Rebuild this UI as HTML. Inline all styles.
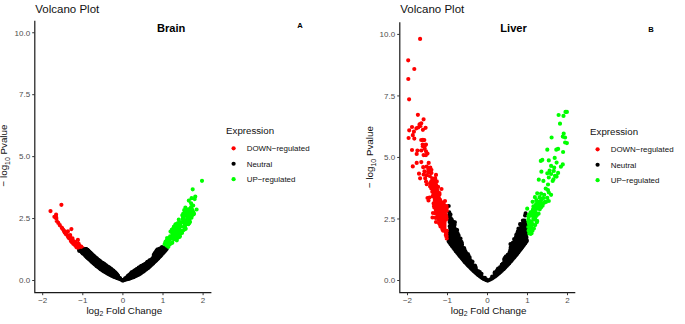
<!DOCTYPE html>
<html><head><meta charset="utf-8"><title>Volcano Plot</title>
<style>
html,body{margin:0;padding:0;background:#fff;}
svg{display:block;font-family:"Liberation Sans",sans-serif;}
.tk{font-size:8px;fill:#4d4d4d;}
.at{font-size:9.8px;fill:#111;}
.pt{font-size:11.5px;fill:#111;}
.bt{font-size:11.1px;font-weight:bold;fill:#000;}
.lb{font-size:7.6px;font-weight:bold;fill:#000;}
.lt{font-size:9.7px;fill:#111;}
.lg{font-size:7.95px;fill:#111;}
</style></head><body>
<svg width="685" height="324" viewBox="0 0 685 324">
<rect width="685" height="324" fill="#fff"/>
<path d="M34.8 21.3V292.6H210.8" stroke="#1a1a1a" stroke-width="1.2" fill="none" stroke-linecap="square"/>
<path d="M34.8 280.5h-2.6" stroke="#333" stroke-width="1"/>
<text x="30.2" y="283.3" text-anchor="end" class="tk">0.0</text>
<path d="M34.8 218.565h-2.6" stroke="#333" stroke-width="1"/>
<text x="30.2" y="221.365" text-anchor="end" class="tk">2.5</text>
<path d="M34.8 156.63h-2.6" stroke="#333" stroke-width="1"/>
<text x="30.2" y="159.43" text-anchor="end" class="tk">5.0</text>
<path d="M34.8 94.695h-2.6" stroke="#333" stroke-width="1"/>
<text x="30.2" y="97.495" text-anchor="end" class="tk">7.5</text>
<path d="M34.8 32.76h-2.6" stroke="#333" stroke-width="1"/>
<text x="30.2" y="35.56" text-anchor="end" class="tk">10.0</text>
<path d="M42.7 292.6v2.6" stroke="#333" stroke-width="1"/>
<text x="42.7" y="302.9" text-anchor="middle" class="tk">−2</text>
<path d="M82.8 292.6v2.6" stroke="#333" stroke-width="1"/>
<text x="82.8" y="302.9" text-anchor="middle" class="tk">−1</text>
<path d="M122.9 292.6v2.6" stroke="#333" stroke-width="1"/>
<text x="122.9" y="302.9" text-anchor="middle" class="tk">0</text>
<path d="M163 292.6v2.6" stroke="#333" stroke-width="1"/>
<text x="163" y="302.9" text-anchor="middle" class="tk">1</text>
<path d="M203.1 292.6v2.6" stroke="#333" stroke-width="1"/>
<text x="203.1" y="302.9" text-anchor="middle" class="tk">2</text>
<text x="124.3" y="314.1" text-anchor="middle" class="at">log<tspan dy="1.9" font-size="6.9">2</tspan><tspan dy="-1.9"> Fold Change</tspan></text>
<text transform="translate(7.3,155.5) rotate(-90)" text-anchor="middle" class="at">− log<tspan dy="2.4" font-size="6.9">10</tspan><tspan dy="-2.4"> Pvalue</tspan></text>
<text x="35.3" y="12.8" class="pt">Volcano Plot</text>
<text x="157" y="32.1" class="bt">Brain</text>
<text x="297.3" y="27.8" class="lb">A</text>
<text x="226.1" y="134.4" class="lt">Expression</text>
<circle cx="233.6" cy="148.3" r="2.1" fill="#ff0000"/>
<text x="246.7" y="151.1" class="lg">DOWN−regulated</text>
<circle cx="233.6" cy="163.75" r="2.1" fill="#000000"/>
<text x="246.7" y="166.55" class="lg">Neutral</text>
<circle cx="233.6" cy="179.2" r="2.1" fill="#00ff00"/>
<text x="246.7" y="182" class="lg">UP−regulated</text>
<path d="M399.8 22.8V292.6H574.7" stroke="#1a1a1a" stroke-width="1.2" fill="none" stroke-linecap="square"/>
<path d="M399.8 280.5h-2.6" stroke="#333" stroke-width="1"/>
<text x="395.2" y="283.3" text-anchor="end" class="tk">0.0</text>
<path d="M399.8 218.975h-2.6" stroke="#333" stroke-width="1"/>
<text x="395.2" y="221.775" text-anchor="end" class="tk">2.5</text>
<path d="M399.8 157.45h-2.6" stroke="#333" stroke-width="1"/>
<text x="395.2" y="160.25" text-anchor="end" class="tk">5.0</text>
<path d="M399.8 95.925h-2.6" stroke="#333" stroke-width="1"/>
<text x="395.2" y="98.725" text-anchor="end" class="tk">7.5</text>
<path d="M399.8 34.4h-2.6" stroke="#333" stroke-width="1"/>
<text x="395.2" y="37.2" text-anchor="end" class="tk">10.0</text>
<path d="M407.5 292.6v2.6" stroke="#333" stroke-width="1"/>
<text x="407.5" y="302.9" text-anchor="middle" class="tk">−2</text>
<path d="M447.5 292.6v2.6" stroke="#333" stroke-width="1"/>
<text x="447.5" y="302.9" text-anchor="middle" class="tk">−1</text>
<path d="M487.5 292.6v2.6" stroke="#333" stroke-width="1"/>
<text x="487.5" y="302.9" text-anchor="middle" class="tk">0</text>
<path d="M527.5 292.6v2.6" stroke="#333" stroke-width="1"/>
<text x="527.5" y="302.9" text-anchor="middle" class="tk">1</text>
<path d="M567.5 292.6v2.6" stroke="#333" stroke-width="1"/>
<text x="567.5" y="302.9" text-anchor="middle" class="tk">2</text>
<text x="488.6" y="314.1" text-anchor="middle" class="at">log<tspan dy="1.9" font-size="6.9">2</tspan><tspan dy="-1.9"> Fold Change</tspan></text>
<text transform="translate(373.2,157.1) rotate(-90)" text-anchor="middle" class="at">− log<tspan dy="2.4" font-size="6.9">10</tspan><tspan dy="-2.4"> Pvalue</tspan></text>
<text x="400.3" y="12.8" class="pt">Volcano Plot</text>
<text x="500.3" y="32.1" class="bt">Liver</text>
<text x="648.3" y="32" class="lb">B</text>
<text x="590.1" y="135.4" class="lt">Expression</text>
<circle cx="597.6" cy="149.3" r="2.1" fill="#ff0000"/>
<text x="610.7" y="152.1" class="lg">DOWN−regulated</text>
<circle cx="597.6" cy="164.75" r="2.1" fill="#000000"/>
<text x="610.7" y="167.55" class="lg">Neutral</text>
<circle cx="597.6" cy="180.2" r="2.1" fill="#00ff00"/>
<text x="610.7" y="183" class="lg">UP−regulated</text>
<polygon points="78.5,250.7 81,253.4 86,258.3 91,263 96,267.2 100.9,271.1 105.9,274.2 110.9,277 114.8,278.6 118.8,280.1 118.8,280.2 121.3,281.3 121.4,281.3 122.7,281.9 123.9,281.5 123.9,281.5 126.4,280.8 126.4,280.8 130.4,279.7 134.4,278.2 139.3,275.9 144.2,272.6 149.2,268.7 154.2,264.3 159.2,259.4 164.2,254 168,249.5 167.9,249.3 167.7,249 167.7,249 167.2,248.6 166.8,248.1 166.2,247.6 165.7,247.2 165.2,246.8 164.7,246.5 164.1,246.3 163.6,246.1 163,245.9 162.5,245.8 162,245.8 161.6,245.8 161.1,245.9 160.7,246.1 160.2,246.3 159.7,246.5 159.7,246.5 159.1,246.8 159.1,246.8 158.5,247 158.5,247 157.9,247.2 157.3,247.4 156.7,247.6 156.1,248 155.6,248.4 155.1,249.1 154.6,249.9 154.1,250.9 153.6,252 153.6,252 153.1,253 153.1,253 152.6,253.9 152.3,254.6 152.1,255.2 151.8,255.8 151.8,255.9 151.5,256.6 151.5,256.6 151.4,256.6 150.9,257.3 150.9,257.4 150.9,257.4 150,258.2 150,258.3 148.7,259.2 148.7,259.2 147.1,260.3 147.1,260.3 145.4,261.4 145.4,261.4 143.5,262.5 141.7,263.7 140,264.7 138.5,265.7 138.5,265.7 136.9,266.7 135.4,267.7 133.9,268.6 132.6,269.5 131.4,270.4 130.3,271.2 129.4,272 128.6,272.7 127.8,273.5 127.1,274.2 127.1,274.2 126.4,274.8 126.4,274.8 125.7,275.5 125,276.2 124.4,276.8 123.9,277.4 123.4,277.9 123.4,277.9 123,278.2 123,278.3 122.9,278.3 122.9,278.3 122.8,278.4 122.8,278.4 122.7,278.4 122.7,278.4 122.6,278.4 122.5,278.4 122.5,278.4 122.4,278.4 122.4,278.4 122.3,278.3 122.3,278.3 122.2,278.3 122.2,278.2 122.1,278.2 121.7,277.7 121.7,277.7 121.2,277 120.5,276.2 119.8,275.4 119,274.6 118.4,273.8 117.7,273.1 117.7,273.1 117.2,272.5 116.6,271.9 116,271.2 115.3,270.6 114.5,269.9 113.6,269.1 112.5,268.2 111.3,267.3 110.1,266.4 108.8,265.5 107.7,264.7 106.5,263.9 105.3,263.1 104.2,262.3 104.2,262.3 103,261.5 103,261.5 101.8,260.7 101.8,260.7 100.6,259.8 100.6,259.8 99.4,258.8 99.4,258.8 98.3,257.8 98.2,257.8 97.1,256.8 97.1,256.8 95.9,255.8 95.9,255.8 94.7,254.7 93.6,253.7 93.6,253.7 92.5,252.7 92.5,252.7 91.4,251.6 91.4,251.6 90.3,250.6 89.3,249.6 88.3,248.8 87.5,248.2 86.8,247.9 86.3,247.7 85.9,247.6 85.4,247.7 84.8,247.8 84.8,247.8 84.1,247.9 83.2,248.1 82.2,248.4 81,248.7 80,249.1 79,249.4 79,249.4 78.7,249.5 78.5,250.7" fill="#000000"/>
<path d="M96 264.2h0M134.3 273.6h0M88.3 257.3h0M153 260h0M90.3 255.4h0M98.3 260.3h0M101.1 267.2h0M129.6 276h0M86.1 254.8h0M128.3 275.5h0M159.1 254h0M95.3 259.5h0M143.6 270.6h0M110.4 270h0M116 273.5h0M143.4 266.5h0M106.1 269.7h0M118.2 276.8h0M108.3 269.3h0M97.2 261.5h0M155.9 260h0M98.6 261h0M141.1 266.2h0M81.8 251.7h0M133 272.3h0M114 273.5h0M158.1 250.1h0M135.3 271.1h0M153.8 258.8h0M109 273.4h0M161.8 250.1h0M99.2 264.7h0M105.1 271.4h0M114.6 273.8h0M159.7 251.5h0M153.8 254.9h0M157.8 257.7h0M156.5 251.7h0M151.7 261.2h0M163.4 251h0M159.9 250.4h0M95.7 262.3h0M150.2 260.7h0M139.9 272.7h0M140.5 272.5h0M133.1 271.8h0M84.5 253.7h0M131.6 272.4h0M93.9 262.9h0M94.7 263.7h0M104.5 271h0M125.2 278.3h0M147.1 264.8h0M147.6 268h0M86.6 251.2h0M86.9 250h0M87.2 257.3h0M142.5 270.3h0M110.9 271.3h0M141.2 266.1h0M96.9 265.9h0M148.7 265.2h0M155.9 256.6h0M87.4 249.9h0M142.2 270.7h0M149.2 261.2h0M97.7 261.3h0M130.4 277.4h0M83.3 250.8h0M150.4 263.1h0M127.2 279h0M112.1 273.7h0M141.5 267.3h0M103.1 265h0M87.2 256.2h0M153.9 257.3h0M159 250.2h0M111.1 270h0M138.4 270.7h0M95.6 260.6h0M87.9 254.7h0M109.6 268.8h0M87.3 255.3h0M100.9 266.3h0M82.9 253.2h0M137.9 271.7h0M97.3 262.8h0M92.5 260h0M128.8 277.3h0M117.3 277.3h0M143.1 267.1h0M116.4 274h0M128.9 277.2h0M162 247.2h0M157.3 253.7h0M152.2 259h0M84.5 250.7h0M137.3 273.5h0M104 268.5h0M87.7 256.7h0M104.2 265.4h0M111.1 269.1h0M147.5 264.4h0M162 253h0M100.5 263.5h0M99.2 266.5h0M129.4 276.2h0M92.7 257.5h0M102.9 266.8h0M163.6 248.6h0M156.7 251.9h0M119.9 278.2h0M109.7 270.3h0M114 275.2h0M112.9 273.2h0M98.6 262.7h0M154.4 254h0M108.1 272.8h0M83.7 252.2h0M142.6 269.3h0M104.3 270.9h0M154.6 254.7h0M154.8 255h0M102.7 269.4h0M96.2 262.8h0M155.8 259.9h0M107.1 271h0M140 270h0M144.6 264.9h0M85.6 249.5h0M146.6 263.2h0M102 264.1h0M108.9 272.4h0M141 267.9h0M90.9 259.7h0M163.6 251.6h0M104.8 271.5h0M133.3 272.6h0M160.5 255.6h0M99.7 263.2h0M84.6 249.3h0M156.9 257.5h0M86.9 253.3h0M149.6 260.4h0M82.5 252.8h0M111 272.2h0M162.7 247.6h0M114.5 273.9h0M165 250.6h0M136.7 274.1h0M158 257.9h0M88.3 258.3h0M144.1 265.4h0M89.3 252h0M126.4 278.8h0M107.8 272.3h0M99 260.8h0M103.7 269.7h0M95.9 259.1h0M133.2 276.7h0M160.3 252.3h0M114.7 276h0M148.8 264.2h0M165.6 249.4h0M154.6 253.7h0M104.2 268.6h0M147.9 263.5h0M127.4 277.3h0M90.3 253.2h0M113.6 275.4h0M133.2 277.2h0M116.7 274.5h0M109.9 270.6h0M100.4 266.5h0M144.1 267.2h0M105.4 270.3h0M157.2 255.6h0M112.4 271.2h0M92.5 260.3h0M133.7 271.9h0M98.9 262.2h0M143.3 270.9h0M82.6 250.9h0M135.5 275.4h0M86.9 255.9h0M84.7 250.3h0M148.6 261.3h0M154.1 260.6h0M104.7 269.8h0M127.6 278h0M159 249.7h0M147.4 261.8h0M90.3 257.8h0M128.3 277.8h0M98.3 261h0M113.5 273.1h0M94.3 258.8h0M152.6 259.1h0M112.6 271h0M97.3 265h0M145.9 266.6h0M104 264.1h0M155.3 252.5h0M143.3 265h0M111.4 273.4h0M100.2 262.3h0M112 271.4h0M157.7 250.6h0M91.8 257.2h0M109 270.5h0M160.4 250.1h0M124.8 279.1h0M82.9 250.9h0M151.8 260.7h0M102.7 266.7h0M102 263.1h0M100.7 268.9h0M102.5 264.6h0M142.6 269.6h0M148.1 265.1h0M109.2 273.5h0M158.8 252h0M161.5 253.6h0M86.3 253.3h0M145.7 264.7h0M161.6 249.9h0M106.8 272.5h0M93.9 258.2h0M152.9 262.7h0M164.3 248h0M84.6 252.6h0M158.7 255h0M156 252.6h0M123.9 279.9h0M103.3 266.3h0M127.9 278.6h0M139.1 273.7h0M109.7 273.5h0M155.1 257.5h0M129.1 278.6h0M136.4 273h0M158.6 256.9h0M100.4 263h0M162.6 251.3h0M145.7 265.6h0M157.8 255.6h0M146.1 268.7h0M86.3 256.2h0M138.8 267.7h0M90.5 257.3h0M114.5 276.7h0M136.6 269.4h0M109.5 270.9h0M141.4 272.5h0M144.4 266.4h0M103.8 266h0M110.5 272.4h0M139.7 270.1h0M151.4 259.8h0M92.9 257.5h0" stroke="#000000" stroke-width="4.2" stroke-linecap="round" fill="none"/>
<path d="M79.2 249.5h0M79.8 250.1h0M80.4 250.7h0M80.9 251.2h0M81.5 251.8h0M82 252.4h0M82.5 252.9h0M83.1 253.5h0M83.7 254h0M84.3 254.6h0M84.8 255.1h0M85.4 255.7h0M86 256.3h0M86.5 256.8h0M87.1 257.4h0M87.7 257.9h0M88.3 258.5h0M88.8 259h0M89.4 259.5h0M90 260.1h0M90.6 260.6h0M91.2 261.2h0M91.7 261.7h0M92.3 262.2h0M92.9 262.7h0M93.5 263.3h0M94.1 263.8h0M94.7 264.3h0M95.3 264.8h0M95.9 265.3h0M96.5 265.9h0M97.1 266.3h0M97.7 266.8h0M98.3 267.3h0M99 267.8h0M99.6 268.3h0M100.2 268.8h0M100.9 269.3h0M101.5 269.7h0M102 270.1h0M102.6 270.5h0M103.3 270.9h0M104 271.4h0M104.7 271.8h0M105.4 272.2h0M106 272.6h0M106.7 273h0M107.4 273.4h0M108 273.8h0M108.7 274.2h0M109.4 274.6h0M110.1 275h0M110.8 275.3h0M111.5 275.7h0M112.1 276h0M112.8 276.3h0M113.6 276.6h0M114.3 276.9h0M115 277.2h0M115.7 277.5h0M116.4 277.8h0M117.2 278h0M117.9 278.3h0M118.7 278.6h0M119.5 278.9h0M120.3 279.2h0M121 279.6h0M121.8 279.9h0M122.6 280.3h0M123 280.6h0M122.4 280.5h0M123.2 280.3h0M124.1 280h0M124.8 279.8h0M125.6 279.6h0M126.4 279.4h0M127.2 279.2h0M127.9 279h0M128.7 278.7h0M129.5 278.5h0M130.1 278.3h0M130.8 278.1h0M131.6 277.8h0M132.3 277.5h0M133.1 277.2h0M133.7 277h0M134.4 276.7h0M135.1 276.3h0M135.8 276h0M136.5 275.7h0M137.3 275.3h0M138 275h0M138.6 274.7h0M139.1 274.3h0M139.8 273.9h0M140.5 273.4h0M141.1 273h0M141.8 272.5h0M142.5 272.1h0M143.1 271.7h0M143.7 271.3h0M144.3 270.8h0M144.9 270.3h0M145.6 269.8h0M146.2 269.3h0M146.8 268.8h0M147.4 268.3h0M148.1 267.9h0M148.6 267.4h0M149.2 266.9h0M149.8 266.4h0M150.4 265.8h0M151 265.3h0M151.6 264.7h0M152.2 264.2h0M152.7 263.7h0M153.3 263.2h0M153.8 262.6h0M154.4 262.1h0M155 261.5h0M155.6 261h0M156.1 260.4h0M156.7 259.8h0M157.3 259.3h0M157.8 258.7h0M158.4 258.2h0M158.9 257.6h0M159.4 257h0M160 256.5h0M160.5 255.9h0M161.1 255.3h0M161.6 254.7h0M162.1 254.1h0M162.7 253.5h0M163.2 253h0M163.7 252.4h0M164.2 251.8h0M164.7 251.2h0M165.3 250.6h0M165.8 250h0M166.3 249.3h0M166.8 248.7h0" stroke="#000000" stroke-width="4.2" stroke-linecap="round" fill="none"/>
<path d="M118 275.5h0M117.3 274.8h0M116.7 274h0M116 273.3h0M115.4 272.6h0M114.7 271.9h0M114 271.3h0M113.3 270.7h0M112.6 270.1h0M111.8 269.5h0M111 268.9h0M110.3 268.3h0M109.5 267.7h0M108.7 267.1h0M107.8 266.6h0M107 266h0M106.2 265.4h0M105.4 264.8h0M104.6 264.3h0M103.8 263.7h0M103 263.2h0M102.1 262.6h0M101.3 262h0M100.4 261.4h0M99.6 260.7h0M98.8 260.1h0M98 259.5h0M97.2 258.8h0M96.5 258.1h0M95.7 257.5h0M94.9 256.8h0M94.2 256.1h0M93.4 255.5h0M92.7 254.8h0M91.9 254.1h0M91.2 253.4h0M90.4 252.7h0M89.7 252h0M89 251.3h0M88.3 250.7h0M87.6 250.1h0M87 249.6h0M86.4 249.2h0M86 249.1h0M85.6 249.1h0M84.7 249.2h0M83.8 249.4h0M82.9 249.6h0M82 249.9h0M81.1 250.2h0M80.2 250.5h0M79.2 250.8h0" stroke="#000000" stroke-width="4.2" stroke-linecap="round" fill="none"/>
<polygon points="54.8,216 54.5,217.8 56.3,220.8 65,235.2 71.2,242.9 76.2,249 84.8,247.2 84.4,246.7 79.8,244.8 79.8,244.8 79.7,244.7 79.6,244.7 74.2,240.2 74.2,240.1 74.1,240.1 70.3,235.6 66.5,231.6 66.4,231.6 62.5,227 62.4,226.9 58.5,221 58.5,220.9 58.5,220.9 58.4,220.8 57.2,216.8 56.2,214.9 54.8,216" fill="#ff0000"/>
<path d="M74.8 243.3h0M79.2 246.5h0M71.9 242.2h0M81.2 246.7h0M75.2 245.6h0M56.2 217.5h0M56.1 217.1h0M70.3 238.3h0M79.8 245.9h0M77.5 244.5h0M76.2 245h0M75.4 243.6h0M73.2 243h0M63.1 229.6h0M77.9 246.5h0M68.3 236.9h0M78.8 247.3h0M76.4 247h0M64.7 232.4h0M70.8 238.7h0M74.3 244h0M74.7 242.4h0M77.1 245.3h0M76.1 245.9h0M65.8 233.6h0M81.3 246.8h0M65.2 232.6h0M65.4 233.6h0M77.2 244.1h0M62.3 228.6h0M69.2 236.9h0M65.7 233.2h0M75 242.3h0M73.1 241.3h0M69.2 237.7h0M73 241.8h0M76.9 243.8h0M72.1 241.2h0M71.5 239.8h0M70.8 240.4h0M68.1 236.6h0M76.3 244h0M64.4 231.4h0M74.9 244.7h0M76.9 247.4h0M73.6 241h0M68.8 237.8h0M80.3 246.3h0M73.1 241.6h0M65.2 232.6h0M72.5 241h0M75.9 243.8h0M78.4 245.4h0M78 245.8h0M75.8 243h0M64.9 231.6h0M71.4 241.3h0M70.8 240.8h0M70.9 240.9h0M68.7 237.7h0" stroke="#ff0000" stroke-width="4.2" stroke-linecap="round" fill="none"/>
<path d="M61.4 204.8h0M50.5 211.1h0M56.1 214.7h0M54.4 216.8h0M56.3 218.5h0M56.7 221h0M58.3 222.9h0M59.8 225.2h0M61.7 227.5h0M71.4 229.1h0M64 230.9h0M67.9 231.4h0M66.3 234.5h0M70.2 235.2h0M68.6 237.6h0M72.5 238.3h0M77.9 239.9h0M71 240.7h0M74.8 242.2h0M73.3 243.8h0M78.7 243.8h0" stroke="#ff0000" stroke-width="4.2" stroke-linecap="round" fill="none"/>
<path d="M171.7 229.9h0M176 232.3h0M184.6 214.1h0M185.6 210.6h0M176.8 240.3h0M192.3 211.9h0M184.2 220.1h0M180.4 223.5h0M175.3 231.6h0M185.6 214.6h0M187 216.5h0M166.9 240.2h0M173.5 239h0M192.1 209.8h0M187.1 221.3h0M183.7 214.3h0M165.4 242.9h0M178.9 228.9h0M182 233h0M177.9 237h0M177.4 231.4h0M184.2 226.8h0M185.9 222.2h0M183.1 220.9h0M175.9 232h0M188.9 209.1h0M189.9 217.6h0M186.5 212.1h0M191.5 214.8h0M174.9 234.2h0M190 221.9h0M189.6 218.9h0M175.2 224.8h0M177.6 224.5h0M193.6 214.3h0M185.4 228.9h0M183 219.6h0M190.1 209.8h0M185.4 229.1h0M183.7 221.7h0M172.2 242.7h0M169.6 239.9h0M190.5 208.3h0M172.7 229.2h0M177.7 227h0M175.4 234h0M182.9 222.5h0M187.1 223.3h0M176.1 232.3h0M189.2 223.3h0M177.9 223h0M180 236.3h0M177.6 235.9h0M168 240.7h0M188.9 209.8h0M192.3 215.2h0M168 242h0M189.7 209.5h0M187 212.3h0M172.1 232.8h0M188.3 223.8h0M175.9 224h0M175.3 224.8h0M188.1 214.5h0M185.7 228.8h0M179.6 233.9h0M192.9 214h0M167.1 238.1h0M178.3 236.9h0M170.5 231.6h0M173.6 236.4h0M182.8 218.8h0M179.5 223.4h0M174.4 239.2h0M179.5 232.1h0M179.5 237h0M171.6 236.9h0M191.5 217.7h0M170.1 236.4h0M172.3 242.8h0M187.5 211.5h0M167 241.6h0M178.1 227.6h0M170.8 231.6h0M172.9 234.8h0M167.7 243.7h0M193.3 211.9h0M173.6 235.2h0M172.6 238.4h0M179.9 222.2h0M182.3 215.3h0M169.8 243.8h0M185.1 212.9h0M194 213.7h0M174.7 237h0M183.3 230.3h0M184.9 226.4h0M187.8 222.5h0M192.1 209.7h0M188.8 222.3h0M177.5 237.9h0M183.1 213.9h0M181 230.9h0M189.2 209.2h0M181.8 231.5h0M186.1 220.1h0M185.3 227.8h0M180.9 226.5h0M184.8 225.9h0M192.7 213.5h0M186.4 213.4h0M187.8 221.8h0M177.6 234.1h0M173.9 226.7h0M188.4 224.2h0M169.9 244.2h0M187.2 222.8h0M176 229.3h0M183.2 217h0M189.2 213.8h0" stroke="#00ff00" stroke-width="4.2" stroke-linecap="round" fill="none"/>
<path d="M202 180.8h0M192.7 189.3h0M195.3 196.6h0M191.6 198.2h0M194.7 199.1h0M188.8 200.6h0M191.1 203.3h0M193.2 205.6h0M191.1 207.2h0M185.4 207.6h0M196.6 209.5h0M184.2 210.2h0M188 210.6h0M191.1 211h0M193.5 214.1h0M184.2 214.9h0M188 214.9h0M183.4 217.2h0M190.4 217.2h0M178.8 219.5h0M187.3 219.5h0M164.6 244.2h0M166.6 245.6h0M168.4 246.8h0M165.6 241.5h0" stroke="#00ff00" stroke-width="4.2" stroke-linecap="round" fill="none"/>
<polygon points="449.3,241.7 452.4,246 456.4,251.2 460.4,256.2 464.3,260.8 468.3,265.2 472.2,269.2 476.1,272.8 480,276 483.8,278.5 486.4,279.9 487.6,280.2 488.8,279.9 491.4,278.5 495.2,276 499.1,272.8 503,269.2 506.9,265.2 510.9,260.8 514.8,256.2 518.8,251.2 522.8,246 526.5,240.9 525.3,218 525.3,218.2 525.2,218.4 525.1,218.6 525,218.8 524.8,219 524.7,219.2 522.7,221.1 521,223.2 519.7,226.2 518.8,229.6 518.7,229.8 518.6,230.1 517.2,232.8 516.6,236 516.5,236.2 516.4,236.5 516.3,236.7 514.5,239.6 513.1,242.5 513,242.6 511.1,245.9 510,250.1 510,250.3 509.9,250.5 509.7,250.7 505,258.2 505,258.3 498.8,267.6 498.7,267.8 492.8,275 492.8,275 489.4,279.1 489.2,279.2 489.1,279.4 488.9,279.5 488.7,279.6 488.5,279.7 488.3,279.8 488.1,279.9 487.9,279.9 487.6,279.9 487.4,279.9 487.2,279.9 487,279.8 486.8,279.7 486.6,279.7 486.4,279.5 486.2,279.4 486,279.3 485.9,279.1 482.3,275 482.2,274.9 476.5,267.7 476.4,267.6 470.3,258.3 470.2,258.2 467.3,253.4 467.3,253.4 462.7,245.6 462.6,245.4 462.5,245.2 460.4,239.4 458.5,235.5 458.4,235.3 458.4,235.1 457,230 455.1,227.3 455,227.1 454.9,226.9 454.8,226.7 454.8,226.5 454.7,226.3 454.7,226.1 454.6,222.7 452.5,221.2 452.3,221 452.1,220.9 452,220.7 451.9,220.5 451.8,220.3 451.7,220.1 450.4,216.8 450.3,216.6 449.5,213.6 449.3,240.5 449.3,241.7" fill="#000000"/>
<path d="M511.8 246.3h0M449.2 236.4h0M517 253.5h0M451.6 233.4h0M523 236.2h0M507.7 263.9h0M458.5 243.7h0M526.4 237.4h0M466.3 253.1h0M517.7 244.8h0M454.4 234h0M451.2 225.2h0M517.5 252.5h0M499.1 270.1h0M451 241.7h0M468.7 259.2h0M519 231h0M525 235.2h0M452.8 240.8h0M468.2 259.7h0M455.6 244h0M500.9 270.6h0M523 232.9h0M464.5 252.3h0M522.2 243.1h0M456.4 232h0M507.1 263.6h0M512.4 252.9h0M454.3 246.2h0M451.9 245.1h0M521.4 248.1h0M524.4 237.7h0M521.4 248h0M509.3 262.3h0M517.6 235.7h0M455.4 238.8h0M462.9 248.2h0M521.1 247h0M518.6 246.4h0M508.9 263.1h0M506.3 261.6h0M526.3 236.8h0M521.2 224.3h0M455 231.9h0M465.9 258.5h0M523.8 236.6h0M507.7 254.9h0M455.7 244.7h0M497.5 269.8h0M464.8 259.4h0M449.7 231.5h0M451.7 245.3h0M453.2 230.5h0M456 233.1h0M478.1 271.1h0M451.5 225.3h0M501.8 264.5h0M469.8 266.1h0M449.3 216.8h0M457.7 246.1h0M458 234.8h0M503.6 268.9h0M525.2 228.4h0M521.8 235h0M470.7 265.3h0M449.3 234.2h0M521.2 232h0M462 248.8h0M524.1 241.2h0M458 247.7h0M514.1 256.5h0M469.5 257.5h0M524.3 224.6h0M450.2 230.8h0M515.7 244.8h0M494.6 273.1h0M453.6 235.7h0M475 266.2h0M462.4 252.1h0M505.1 257.6h0M514.9 244.1h0M515.8 252.5h0M512.8 242.9h0M452.3 221.9h0M463.5 251.4h0M483.7 277.8h0M456 229.5h0M522.6 243.3h0M469.2 265.2h0M459.9 248.7h0M521.3 224.4h0M521.1 230h0M456.2 251.2h0M451.8 228.8h0M525.1 228.5h0M503 265.2h0M498.3 270.1h0M468 257h0M461.8 247.5h0M481.6 277.4h0M516.9 246.6h0M452.3 244.1h0M521.8 230.3h0M450.4 227.6h0M454.2 233.8h0M485.8 279.2h0M455.3 236.9h0M510.9 252.4h0M454.6 224.8h0M500.2 267.2h0M457 234.9h0M458.3 241.7h0M524.9 235.6h0M464.1 253.6h0M525.9 226.7h0M523.2 241.5h0M526.4 234h0M452.2 243h0M524.7 241.4h0M525.3 230.6h0M518.7 229.7h0M456.9 247.3h0M457.5 233.1h0M451.2 219.2h0M517 253.8h0M522.2 227.4h0M524.2 241.8h0M455.3 245.2h0M458 252.6h0M494.9 275.2h0M475.7 267.4h0M455.6 233.8h0M524.9 243.4h0M454.5 228h0M469.9 259.5h0M480.7 275.9h0M510.7 249.9h0M464.1 248h0M453.5 245.6h0M517.2 240.2h0M520 232.4h0M492.2 276.6h0M521.5 241.2h0M450.6 229.1h0M466 260.7h0M462.7 257.7h0M514.7 239.9h0M454.1 242.2h0M486.4 279.8h0M451.1 224.6h0M479.3 271.8h0M479.8 272.1h0M512.8 249.2h0M456.9 233.7h0M523.3 228.8h0M505.9 258.6h0M518.2 252h0M493.8 276.5h0M516 247.9h0M464.3 259h0M516.2 250.7h0M453.7 222.1h0M453.2 232.7h0M504.7 266.7h0M452.6 222.1h0M503.1 266.4h0M516 243.9h0M514 250.4h0M463.9 254.2h0M521.5 247.3h0M520.5 246.7h0M450.7 237.9h0M455.7 236.3h0M513.6 247.5h0M454.7 229h0M457.6 239.3h0M481.5 273.8h0M509.6 252.4h0M461 247h0M525.4 222.3h0M519.8 249.5h0M456.7 249.8h0M458.7 246.2h0M465.3 252.5h0M465.2 257.1h0M457.9 245.1h0M517.6 237.7h0M524.8 239.4h0M498.1 268.5h0M520.7 248.4h0M522.1 229.8h0M521.6 229.1h0M509.6 258.9h0M450.6 225.7h0M453 245.6h0M513 248.2h0M524.8 231.5h0M451.9 232.6h0M518.1 249.2h0M451 236.4h0M510.2 260.3h0M455.4 243h0M524.3 231.6h0M525.5 231.7h0M471.9 261.4h0M509.7 258.5h0M459.6 252.8h0M465.5 251.8h0M513.5 247.7h0M504.2 259.2h0M505.3 263.7h0M501.4 266.9h0M455.9 233h0M450.5 232.5h0M524.6 222h0M450.4 223.4h0M501.3 268.8h0M462.7 248.7h0M515.9 254.8h0M450.9 242.1h0M525.1 236.8h0M452.6 238.7h0M450 238.5h0M451.1 232.5h0M458.6 242.4h0M464.9 261.9h0M506.5 262.6h0M523.9 227.5h0M477.3 273h0M516.1 250.6h0M516.8 251.9h0M457.6 250.8h0M450.4 234.6h0M477.9 271.8h0M474 270.2h0M468.8 259.3h0M519.4 244.1h0M495.5 273h0M504.2 266.9h0M517.9 232.7h0M461.4 241.8h0M524.1 238.2h0M457.5 242.6h0M482.2 277.7h0M450.3 230.8h0M516.1 246.1h0M450.6 218.1h0M470 265.5h0M525 227.3h0M449.3 212.4h0M515.5 254.3h0M463.3 257.7h0M459.3 239.6h0M511.9 255.5h0M454.2 229.4h0M453.3 225.6h0M518.7 229.8h0M505.7 256.9h0M485.2 279.1h0M519.6 240.9h0M510.5 251.5h0M459.7 242.3h0M518.8 239.6h0M518.8 231.3h0M461.1 247.6h0M516.4 243h0M516.8 250.1h0M525.3 223.1h0M494.8 272.3h0M452 225.1h0M458.2 237.2h0M456.1 232.2h0M526.2 233.2h0M478.3 274.8h0M460.3 248.5h0M468.9 259.7h0M465.6 262.4h0M518.3 239.1h0M514 253.7h0M513.2 248.3h0M501.9 265.6h0M523.5 241h0M522.5 225.9h0M519.2 237.9h0M521.5 232.9h0M505 264.8h0M516.7 244h0M511.3 246.4h0M451 232.4h0M456.1 231h0M517.9 243.2h0M510.3 250.2h0M515.8 254.5h0M462.2 246.9h0M519.9 236.6h0M456.9 238.9h0M524.2 238h0M525.3 235.7h0M449.4 216h0M457.5 242h0M500.7 267.2h0M521.3 227h0M520.1 228.8h0M464 259.5h0M504.3 261.1h0M470.8 266.5h0M515.6 254h0M516.1 244.3h0M460.5 241.1h0M521.9 227.3h0M460.2 254.4h0M505.9 260h0M458 250.8h0M512.4 246.3h0M452.1 240.1h0M515.2 252.5h0M522.7 245h0M465.3 259.3h0M511 259.8h0M524.6 232.3h0M523.1 240.1h0M510.2 259.6h0M449.7 226.3h0M455.9 245.6h0M502.7 263.9h0M464.4 249.1h0M469.9 260.6h0M520.1 238.5h0M451.8 234.8h0M482.3 277.3h0M458.5 249h0M469.6 264.2h0M526 225.3h0M465 256h0M450.5 220.6h0M474.9 265.5h0M499 271.1h0M455.8 231.8h0M452.9 243.5h0M517.9 244.6h0M450.1 217.8h0M520.4 243.6h0M451.7 223.6h0M516.6 249.3h0M459.7 254.8h0M451.8 229.7h0M510.6 261.3h0M511.9 255.5h0M507.8 254.8h0M517.1 243.7h0M454 234.8h0M480.5 274.8h0M507.7 259.2h0M456.7 230.3h0M453.6 228.2h0M460.2 240.6h0M460.3 251h0M470.6 264h0M524.2 220.6h0M495.7 272.8h0M513.6 243.9h0M510.3 261.3h0M461 251.4h0M457.6 245.5h0M479.3 272.4h0M449.5 237h0M453.2 237.4h0M517.8 231.7h0M484.9 277.9h0M452.2 231.4h0M453.3 240.9h0M468.5 255.4h0M512.6 250h0M464 256.3h0M457.6 241.7h0M449 238.3h0M456.9 234.3h0M511 257.8h0M479.9 275.4h0M460.4 255.8h0M502.2 264.7h0M465.2 261h0M519.1 243.1h0M461.9 243.1h0M452.8 230.9h0M515.7 254.3h0M463.2 256.5h0M526.6 239.9h0M453.8 241.2h0M497 270.6h0M460.6 247.8h0M519.7 246.4h0M460.9 242.2h0M498.1 270.3h0M521 248.2h0M460.8 241.4h0M510.7 247.6h0M456.1 246.3h0M476.9 273h0M460.6 247.9h0M457.5 234.9h0M450.2 239.8h0M517.8 250.9h0M521.5 239.3h0M453.5 225.6h0M467.6 255.7h0M466.5 254.5h0M506.1 256.3h0M519.2 235.8h0M494.6 276.2h0M466.4 258.6h0M456.7 234h0M523.3 235.4h0M462 244.6h0M453.2 237.5h0M480.7 273.5h0M523.9 240.9h0M460 249.4h0M452.8 231h0M449.3 234h0M496.9 272.7h0M524 224.6h0M453 223.9h0M517.8 251.4h0M453.1 243.6h0M512.5 244.2h0M469.6 257.3h0M451.8 245.4h0M524 230.1h0M460.1 241.6h0M450.9 230.1h0M502 266.2h0M524.2 239.2h0M467.1 259.1h0M518 236.8h0M454.2 230.5h0M520.9 233.9h0M505.6 259.6h0M454 232.8h0M462.1 252.7h0M455.3 244h0M508.8 263.4h0M461.3 255.9h0M519.6 234.3h0M452.9 227.5h0M510.3 250.5h0M453.2 244.2h0M503.8 264.7h0M469.1 264h0M515.1 252.8h0M524.6 243.6h0M520.6 229.7h0M472.5 261.8h0M454.3 224.3h0M523.8 236.3h0M525.4 232h0M478 272.8h0M461 243.3h0M458.3 238.8h0M518 238.6h0M462.4 254.8h0M521.1 241.4h0M453.5 238.3h0M449.7 222.1h0M459.8 246.3h0M465.1 251h0M467.9 254h0M449.3 214.5h0M461 250.5h0M523 245.4h0M460.2 249.4h0M520.6 230h0M513.1 247.3h0M466.4 256.5h0M483.3 278.4h0M521.6 236.9h0M476.4 270.1h0M515.6 247.3h0M457.8 250.4h0M512.8 245.6h0M523.7 227.1h0M449.6 219.1h0M475.9 270.9h0M466.8 255.7h0M526.1 228.4h0M517.5 232.7h0M524.2 221.5h0M523.6 225h0M449.3 238h0M454 229.7h0M452.2 243.7h0M460.8 243.1h0M450.2 228.6h0M455.9 230h0M452.2 226.8h0M459.2 245.2h0M519.4 236.4h0M508.2 254.5h0M466.8 263.6h0M510.3 258.9h0M502.8 268.7h0M455.7 230.9h0M453.5 225.9h0M521.3 238.6h0M472.6 265.5h0M509.8 260.1h0M520.4 238.6h0M513.2 252.3h0M451.9 235.8h0M511.5 247h0M451.6 230.7h0M475.1 265.9h0M521.4 233.1h0M462.3 250.6h0M516 237.1h0M453.9 237.4h0M471 262.3h0M508.3 260.9h0M525.1 227.2h0M465.9 255.5h0" stroke="#000000" stroke-width="4.2" stroke-linecap="round" fill="none"/>
<path d="M448.6 241.3h0M449.1 241.9h0M449.6 242.6h0M450 243.2h0M450.5 243.9h0M451 244.5h0M451.4 245.1h0M451.9 245.8h0M452.4 246.4h0M452.9 247h0M453.3 247.7h0M453.8 248.3h0M454.3 248.9h0M454.8 249.6h0M455.3 250.2h0M455.8 250.9h0M456.2 251.5h0M456.7 252.1h0M457.2 252.7h0M457.7 253.3h0M458.2 253.9h0M458.7 254.6h0M459.2 255.2h0M459.7 255.8h0M460.2 256.4h0M460.7 257h0M461.2 257.6h0M461.7 258.2h0M462.3 258.8h0M462.8 259.5h0M463.3 260.1h0M463.8 260.7h0M464.3 261.2h0M464.8 261.8h0M465.4 262.4h0M465.9 263h0M466.4 263.6h0M467 264.2h0M467.5 264.8h0M468 265.4h0M468.6 265.9h0M469.1 266.5h0M469.7 267h0M470.2 267.6h0M470.8 268.2h0M471.4 268.8h0M471.9 269.3h0M472.4 269.8h0M473 270.3h0M473.6 270.9h0M474.2 271.4h0M474.8 272h0M475.4 272.5h0M475.9 273h0M476.5 273.5h0M477.1 274h0M477.7 274.5h0M478.3 275h0M479 275.5h0M479.6 276h0M480.1 276.4h0M480.7 276.8h0M481.4 277.3h0M482.1 277.7h0M482.7 278.2h0M483.4 278.6h0M483.9 278.9h0M484.6 279.3h0M485.3 279.6h0M486 280h0M486.5 280.2h0M487.2 280.4h0M487.6 280.6h0M487.6 280.5h0M488.4 280.3h0M488.9 280.1h0M489.5 279.8h0M490.2 279.5h0M490.9 279.1h0M491.5 278.8h0M492.1 278.4h0M492.7 278h0M493.4 277.6h0M494.1 277.1h0M494.7 276.7h0M495.3 276.2h0M495.9 275.8h0M496.5 275.3h0M497.1 274.8h0M497.7 274.3h0M498.3 273.8h0M499 273.3h0M499.5 272.8h0M500.1 272.3h0M500.7 271.8h0M501.2 271.2h0M501.8 270.7h0M502.4 270.1h0M503 269.6h0M503.5 269.1h0M504.1 268.5h0M504.6 268h0M505.2 267.4h0M505.7 266.8h0M506.3 266.2h0M506.9 265.7h0M507.4 265.1h0M507.9 264.6h0M508.4 264h0M509 263.4h0M509.5 262.8h0M510 262.2h0M510.6 261.6h0M511.1 261h0M511.6 260.4h0M512.1 259.8h0M512.6 259.2h0M513.1 258.6h0M513.7 258h0M514.2 257.4h0M514.7 256.8h0M515.2 256.2h0M515.7 255.6h0M516.2 255h0M516.7 254.3h0M517.2 253.7h0M517.7 253.1h0M518.2 252.5h0M518.7 251.8h0M519.1 251.2h0M519.6 250.6h0M520.1 250h0M520.6 249.3h0M521.1 248.7h0M521.6 248.1h0M522 247.4h0M522.5 246.8h0M523 246.2h0M523.5 245.5h0M523.9 244.9h0M524.4 244.2h0M524.9 243.6h0M525.3 243h0M525.8 242.3h0M526.3 241.7h0M526.8 241h0" stroke="#000000" stroke-width="4.2" stroke-linecap="round" fill="none"/>
<path d="M448.7 206h0M450.5 214.6h0M451.8 219.9h0M454.9 222.3h0M453 224.8h0M457.1 230h0M454.9 231h0M458.6 235.4h0M460.5 238.5h0M525.6 213.4h0M525.1 215.5h0M522.9 220.5h0M520.1 224.2h0M518.5 228.6h0M516.3 234.8h0M514.2 239.1h0M510.5 244.1h0" stroke="#000000" stroke-width="4.2" stroke-linecap="round" fill="none"/>
<polygon points="428.9,184.6 431.8,189.3 431.9,189.5 432,189.7 432,190 432.1,190.2 434.1,205.7 434.9,211.7 436.5,216.8 439.9,224 439.9,224.1 442.5,230.5 446.3,237.5 446.7,206.6 444.3,202 441.6,200 441.5,199.9 441.3,199.8 441.2,199.6 441,199.4 440.9,199.2 440.8,199 440.8,198.8 440.7,198.6 439.2,189.7 435.6,183.1 435.5,182.9 435.4,182.7 435.4,182.5 435.3,182.3 434.9,179.5 433.3,180 428.9,184.6" fill="#ff0000"/>
<path d="M440 223.1h0M446 217.6h0M437.2 193.7h0M438.6 213.2h0M432.3 191.8h0M446.8 230.9h0M438.5 219.3h0M435.1 188.9h0M431.1 182.9h0M434.7 197.4h0M443.7 207.6h0M434.3 207.6h0M442.4 229.3h0M435.2 213.4h0M445.8 235.1h0M434.8 200.1h0M443.3 230.2h0M438.6 197.6h0M434.3 189.5h0M431.4 181.9h0M446.8 210.7h0M436 193.1h0M436.9 204.1h0M433.9 206h0M446.6 206h0M437.3 196.3h0M435.9 187.7h0M446.3 216.3h0M437.7 199.1h0M443 230.6h0M442.9 220.3h0M440.8 224.2h0M442.8 220.1h0M440.5 213.6h0M440.5 226.5h0M442.2 228.3h0M444.7 220h0M446.6 235.9h0M438.1 210.5h0M445.9 207.4h0M441.3 221.8h0M443 213.6h0M440.8 204h0M440.1 225.1h0M440.3 221.9h0M436.6 217.7h0M437.2 192.4h0M434.3 189.8h0M432 181.1h0M437.1 201.6h0M439.8 214.1h0M433.6 203.4h0M435.4 181.1h0M438.6 199.2h0M443.7 203.9h0M443.6 217.2h0M435.3 187.4h0M439.5 212.5h0M446.3 236.6h0M439.8 199.9h0M435.4 204.7h0M432.6 196.3h0M446.4 233.4h0M439.5 194.4h0M446.7 208.5h0M436.2 198h0M446.8 208.3h0M436.7 196.4h0M443 228.2h0M433.4 188.2h0M439.8 207.2h0M440.4 214.9h0M438.4 199h0M437.1 200.5h0M442.3 214.2h0M445 211.5h0M436.4 213.3h0M441.6 216.6h0M435.6 202.3h0M441.4 204.7h0M437.3 211.7h0M437.7 198.7h0M443.2 218.5h0M446.7 238.4h0M436.1 188.6h0M439.1 223.2h0M436.5 197.7h0M439.6 208.1h0M438.8 215.9h0M438.1 186.9h0M441.7 218h0M430.1 186.4h0M439.5 193.2h0M444.8 207.6h0M446.2 219.5h0M432.6 185.9h0M446.6 218.6h0M440.1 200.1h0M439.9 199.7h0M435.6 187.1h0M443.9 217.6h0M443.4 204.8h0M444.3 209.8h0M439.5 213.1h0M442.2 202.5h0M432.2 181.3h0M445 207.6h0M440 204.5h0M431.3 188.4h0M435.4 201.9h0M433.1 195.5h0M441.3 219.1h0M432.7 183.6h0M435.2 197.5h0M437.1 195.8h0M442.1 221.7h0M440.5 204.6h0M438.1 199.8h0M430.1 183.2h0M445.2 208.2h0M432.9 182h0M434.1 182h0M435.9 210.6h0M445.6 214.6h0M437.5 213h0M434.1 205.7h0M430.8 183.9h0M433 184h0M436.4 213.3h0M433 182.6h0" stroke="#ff0000" stroke-width="4.2" stroke-linecap="round" fill="none"/>
<path d="M420.1 38.9h0M408.2 60.3h0M414.3 69h0M408.3 79h0M409.1 99.3h0M417.9 114.8h0M423.6 119.3h0M421.3 123.3h0M419.5 124.4h0M420.5 126h0M412 127h0M418.2 127.5h0M425.6 127.8h0M416.4 128.3h0M422.9 129.8h0M409.2 130.3h0M413.9 131.7h0M412.8 135.2h0M408.6 138h0M414.3 138.6h0M421.2 140h0M422.9 139.9h0M424.3 140.1h0M422.6 144.5h0M426 144.5h0M425.6 145.1h0M422.6 146.1h0M424.7 148.6h0M412 150h0M417.4 150.5h0M421.3 150.5h0M426 151.3h0M416.7 153.9h0M427.5 153.6h0M423.6 155.1h0M426 155.1h0M421.3 162.1h0M416.7 162.9h0M428.7 162.9h0M412.8 166.4h0M423.2 167.2h0M426.7 166.7h0M430.3 167.5h0M428.3 169.8h0M431.4 169.8h0M424.4 171.4h0M428.3 172.2h0M431.4 172.9h0M419 173.7h0M423.6 174.5h0M426.7 175.2h0M436 174.9h0M429.8 176h0M420.1 178.3h0M425.2 178.3h0M432.2 178.3h0M435.2 178.3h0M426 181.4h0M431.4 181.4h0M434.5 181.4h0M436.8 181.4h0M426.7 184.2h0M432.9 184.2h0M436 184.2h0M427.5 198h0M428.5 200.5h0M429.5 197.5h0M441.5 189h0M445 201h0M433 213h0M432.5 217.5h0M436 222h0M435.5 217.8h0" stroke="#ff0000" stroke-width="4.2" stroke-linecap="round" fill="none"/>
<path d="M537 215.1h0M530.8 233.9h0M528.2 220.1h0M528.9 215.4h0M536.3 204.2h0M533.3 208.9h0M535.4 219.7h0M528.6 217.1h0M539.6 205.5h0M529.7 221.5h0M536.2 216.1h0M540.4 204.5h0M539.3 207.5h0M529.2 222.1h0M539.8 206.6h0M532.7 224.2h0M528.9 214.9h0M539.2 201.6h0M536.5 209h0M536.7 213.3h0M529.8 224.9h0M530.1 230.8h0M528.6 230.7h0M535.8 215.1h0M541 207.4h0M532.1 215.7h0M535 206.3h0M539 206.1h0M529.8 222.1h0M541.5 203.4h0M538.3 207.5h0M540.3 204.1h0M536.9 222.2h0M535.6 207.5h0M533.9 228.5h0M542 204.8h0M529.1 223.9h0M545 202.3h0M539.8 207.8h0M529.4 214.4h0M537.2 221.3h0M528.6 230.5h0M530.2 214.2h0M532.6 230.6h0M537.1 220.8h0M535.2 225.1h0M532.7 210.7h0M538.1 208.4h0M543.6 203.1h0M539.8 209.3h0M534.2 210.3h0M535.8 208.9h0M533.4 218.5h0M536.6 208h0M535.9 213.3h0M531.4 221.6h0M531.8 228h0M540.8 206.2h0M538.6 213.7h0M528.5 222h0M538 204.7h0M538.4 203.6h0M530.7 227.2h0M535 211.2h0M534.3 215.6h0M531.6 224.3h0M528.3 227h0M528.5 219.2h0M533.4 206.4h0M532.6 213.5h0M546 201.9h0M531.7 230.6h0M541 204.6h0M537.7 203.2h0M529.7 214.4h0M529.2 233.5h0M539.3 208.5h0M530.6 212.3h0M528.8 216.4h0M539.2 208.5h0M531 215.4h0M533.6 219.3h0M531.6 233.3h0M540.4 204.5h0M533 224.3h0" stroke="#00ff00" stroke-width="4.2" stroke-linecap="round" fill="none"/>
<path d="M565.5 111.9h0M566.9 111.9h0M558.6 115h0M563.5 115.9h0M560 123.7h0M563.7 133.5h0M551.6 137.5h0M562.8 136.6h0M565.1 137.5h0M565.1 142.5h0M566.9 143.1h0M547.3 149.7h0M556.3 149.7h0M558.1 148.9h0M563.1 152h0M554.7 157.9h0M542.3 159.9h0M540.8 160.9h0M548.8 160.4h0M556.6 162.6h0M562.8 164.4h0M551.1 165.9h0M560.9 166.7h0M554.2 167.5h0M549.6 170.6h0M553.8 170.9h0M541.4 171.7h0M558.1 172.9h0M547.3 173.3h0M551.1 174h0M555 175.8h0M548.8 177.5h0M556.6 176.6h0M553.5 179.3h0M538.8 179.7h0M543.4 180.9h0M552.7 180.9h0M548 184.5h0M545.7 188.6h0M548 190.2h0M548.8 192.5h0M537.2 193.3h0M541.1 193.7h0M551.1 194.8h0M544.2 194.8h0M534.9 197.2h0M539.5 197.2h0M543.4 197.9h0M547.3 197.9h0M536.4 200.2h0M541.1 200.2h0M548.8 201h0M532.6 201.8h0M545 201.8h0M536.4 204.1h0M540.3 204.1h0M542.6 205.7h0M534.9 207.2h0M538.8 207.2h0M527.2 208.7h0M533.3 209.5h0" stroke="#00ff00" stroke-width="4.2" stroke-linecap="round" fill="none"/>
</svg>
</body></html>
